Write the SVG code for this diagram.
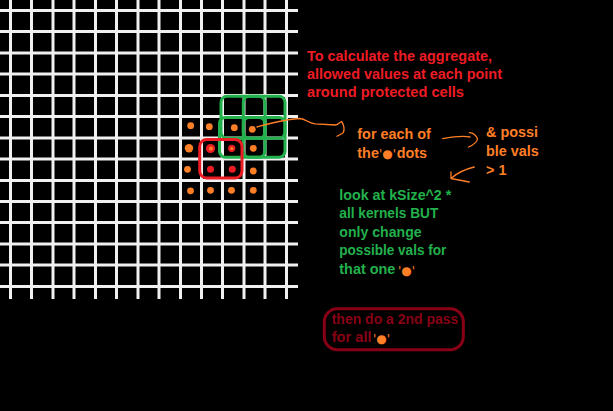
<svg xmlns="http://www.w3.org/2000/svg" width="613" height="411" viewBox="0 0 613 411">
<style>
.grid{stroke:#f0f0f0;stroke-width:3;fill:none}
.t{font-family:"Liberation Sans",Arial,sans-serif;font-weight:bold;font-size:14.4px}
.red{fill:#ed1c24}
.org{fill:#ff7f27}
.grn{fill:#22b14c}
.dred{fill:#880015}
.sym{font-family:"DejaVu Sans",sans-serif;font-weight:normal;font-size:12px;fill:#ff7f27}
.od{fill:#ff7f27}
.rd{fill:#ed1c24}
.kern{fill:none;stroke:#22b14c;stroke-width:3}
.hand{fill:none;stroke:#ff7f27;stroke-width:1.3;stroke-linecap:round;stroke-linejoin:round}
</style>
<rect width="613" height="411" fill="#000"/>
<g id="grid">
<path class="grid" d="M0,10.5H298M0,31.5H298M0,53H298M0,74H298M0,95.5H298M0,116.5H298M0,138H298M0,159H298M0,180.5H298M0,201.5H298M0,222.5H298M0,244H298M0,265H298M0,286.5H298"/>
<path class="grid" d="M10.5,0V299M31.5,0V299M53,0V299M74,0V299M95.5,0V299M116.5,0V299M138,0V299M159,0V299M180.5,0V299M201.5,0V299M222.5,0V299M244,0V299M265,0V299M286.5,0V299"/>
</g>
<g id="dots">
<circle class="od" cx="190.7" cy="125.7" r="3.4"/>
<circle class="od" cx="209.3" cy="126.7" r="3.4"/>
<circle class="od" cx="234.3" cy="127.7" r="3.4"/>
<circle class="od" cx="252.3" cy="129.3" r="3.4"/>
<circle class="od" cx="189" cy="148.3" r="4.2"/>
<circle class="rd" cx="210.5" cy="148.5" r="4.6"/>
<circle class="od" cx="211" cy="148.5" r="2"/>
<circle class="rd" cx="231.7" cy="148.3" r="3.6"/>
<circle class="od" cx="231.9" cy="148.5" r="1.5"/>
<circle class="od" cx="253.3" cy="148.3" r="3.4"/>
<circle class="od" cx="187.5" cy="169.3" r="3.4"/>
<circle class="rd" cx="210.5" cy="169.3" r="3.5"/>
<circle class="rd" cx="232.3" cy="169.3" r="3.5"/>
<circle class="od" cx="253.3" cy="171" r="3.4"/>
<circle class="od" cx="190.5" cy="190.8" r="3.4"/>
<circle class="od" cx="210.5" cy="190.3" r="3.4"/>
<circle class="od" cx="231.5" cy="190.3" r="3.4"/>
<circle class="od" cx="253.3" cy="190.3" r="3.4"/>
</g>
<g id="kernels">
<rect class="kern" x="221" y="96.3" width="44" height="42" rx="6"/>
<rect class="kern" x="243.3" y="96.3" width="41.7" height="42" rx="6"/>
<rect class="kern" x="219.5" y="117.5" width="45.5" height="39.8" rx="6"/>
<rect class="kern" x="243.3" y="117.5" width="41.7" height="39.8" rx="6"/>
</g>
<g id="protected">
<rect x="199.7" y="139.5" width="42.3" height="38.5" rx="7" fill="none" stroke="#ed1c24" stroke-width="3"/>
</g>
<g id="connectors">
<path class="hand" d="M257,127 C268,124 285,119 300,118.5 C306,119 308,123 315,123.8 L336,125 C339,124 340,122 341.5,121.5 C344,125 345,130 343,133 L337,136.3"/>
<path class="hand" d="M442.7,138.7 C452,137 462,135.5 470,137 M469.5,132.7 C473,133 476,135 477.5,139 C477,143 473,145 468.5,147"/>
<path class="hand" d="M474.3,167 C466,169 458,172 451,178.5 M451,172 L451,178.5 L469.3,182"/>
</g>
<g id="title">
<text class="t red" x="307" y="60.5" textLength="185" lengthAdjust="spacingAndGlyphs">To calculate the aggregate,</text>
<text class="t red" x="307" y="78.5" textLength="195" lengthAdjust="spacingAndGlyphs">allowed values at each point</text>
<text class="t red" x="307" y="96.8" textLength="157" lengthAdjust="spacingAndGlyphs">around protected cells</text>
</g>
<g id="for-each">
<text class="t org" x="357.3" y="139.3">for each of</text>
<text class="t org" x="357.3" y="158.3">the</text>
<text class="sym" x="387.5" y="158" text-anchor="middle">'●'</text>
<text class="t org" x="396.7" y="158.3">dots</text>
</g>
<g id="possible">
<text class="t org" x="486" y="137">&amp; possi</text>
<text class="t org" x="486" y="156">ble vals</text>
<text class="t org" x="486" y="175">&gt; 1</text>
</g>
<g id="look-at">
<text class="t grn" x="339.3" y="199.5" textLength="112" lengthAdjust="spacingAndGlyphs">look at kSize^2 *</text>
<text class="t grn" x="339.3" y="218" textLength="99" lengthAdjust="spacingAndGlyphs">all kernels BUT</text>
<text class="t grn" x="339.3" y="236.5" textLength="82.3" lengthAdjust="spacingAndGlyphs">only change</text>
<text class="t grn" x="339.3" y="255" textLength="107" lengthAdjust="spacingAndGlyphs">possible vals for</text>
<text class="t grn" x="339.3" y="273.5">that one</text>
<text class="sym" x="406.5" y="274.5" text-anchor="middle">'●'</text>
</g>
<g id="second-pass">
<rect x="324.3" y="308.8" width="139" height="40.9" rx="13" fill="none" stroke="#880015" stroke-width="3"/>
<text class="t dred" x="331.7" y="324.3" textLength="126.7" lengthAdjust="spacingAndGlyphs">then do a 2nd pass</text>
<text class="t dred" x="331.7" y="341.7" textLength="40" lengthAdjust="spacingAndGlyphs">for all</text>
<text class="sym" x="381.5" y="342.5" text-anchor="middle">'●'</text>
</g>
</svg>
